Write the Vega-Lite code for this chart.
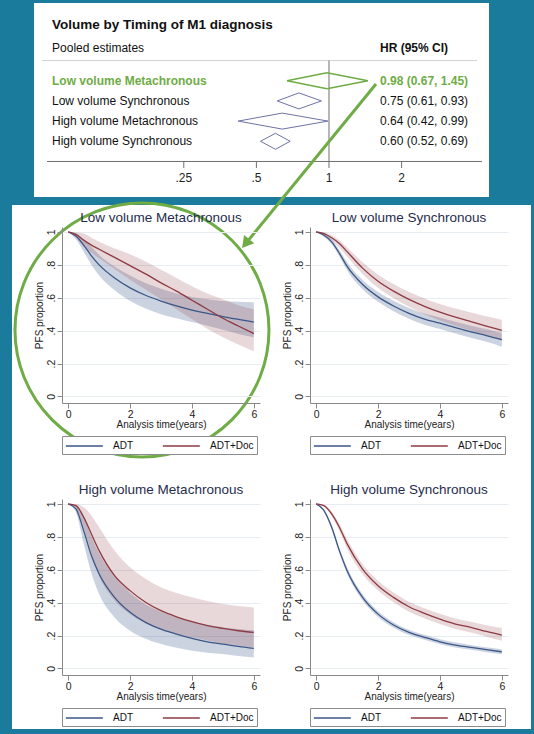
{
  "$schema": "https://vega.github.io/schema/vega-lite/v6.json",
  "background": "#1a7b9c",
  "padding": {"left": 8, "top": 3, "right": 7, "bottom": 5},
  "bounds": "flush",
  "spacing": 30,
  "config": {
    "font": "Liberation Sans",
    "view": {"stroke": null},
    "axis": {"domainColor": "#8a8a8a", "tickColor": "#8a8a8a", "labelColor": "#222222", "titleColor": "#222222", "labelFontSize": 10.5, "titleFontSize": 10, "titleFontWeight": "normal", "tickSize": 5, "labelPadding": 1, "grid": false},
    "axisX": {"titlePadding": 0, "labelFlush": false},
    "axisY": {"grid": true, "gridColor": "#e6ecf0", "labelAngle": 270, "titlePadding": 2},
    "title": {"fontSize": 13.5, "fontWeight": "normal", "color": "#1f2c4c", "offset": 3},
    "legend": {"orient": "bottom", "direction": "horizontal", "offset": 6, "padding": 3, "strokeColor": "#8c8c8c", "fillColor": "#ffffff", "symbolType": "M-1,0H5", "symbolSize": 152, "symbolStrokeWidth": 1.3, "labelFontSize": 10, "labelColor": "#111111", "labelOffset": 34, "columnPadding": 27}
  },
  "datasets": {
    "forest": [
      {"row": 1, "label": "Low volume Metachronous", "hr": 0.98, "lo": 0.67, "hi": 1.45, "ci": "0.98 (0.67, 1.45)"},
      {"row": 2, "label": "Low volume Synchronous", "hr": 0.75, "lo": 0.61, "hi": 0.93, "ci": "0.75 (0.61, 0.93)"},
      {"row": 3, "label": "High volume Metachronous", "hr": 0.64, "lo": 0.42, "hi": 0.99, "ci": "0.64 (0.42, 0.99)"},
      {"row": 4, "label": "High volume Synchronous", "hr": 0.60, "lo": 0.52, "hi": 0.69, "ci": "0.60 (0.52, 0.69)"}
    ],
    "hrticks": [
      {"tick": 0.25, "lab": ".25"}, {"tick": 0.5, "lab": ".5"}, {"tick": 1, "lab": "1"}, {"tick": 2, "lab": "2"}
    ],
    "curves": [
      {"panel": "LM", "arm": "ADT", "t": 0, "s": 1, "lo": 1, "hi": 1},
      {"panel": "LM", "arm": "ADT", "t": 0.25, "s": 0.975, "lo": 0.955, "hi": 0.99},
      {"panel": "LM", "arm": "ADT", "t": 0.5, "s": 0.92, "lo": 0.88, "hi": 0.955},
      {"panel": "LM", "arm": "ADT", "t": 0.75, "s": 0.855, "lo": 0.8, "hi": 0.91},
      {"panel": "LM", "arm": "ADT", "t": 1, "s": 0.8, "lo": 0.735, "hi": 0.86},
      {"panel": "LM", "arm": "ADT", "t": 1.5, "s": 0.72, "lo": 0.645, "hi": 0.79},
      {"panel": "LM", "arm": "ADT", "t": 2, "s": 0.66, "lo": 0.58, "hi": 0.735},
      {"panel": "LM", "arm": "ADT", "t": 2.5, "s": 0.615, "lo": 0.535, "hi": 0.69},
      {"panel": "LM", "arm": "ADT", "t": 3, "s": 0.58, "lo": 0.5, "hi": 0.655},
      {"panel": "LM", "arm": "ADT", "t": 3.5, "s": 0.55, "lo": 0.475, "hi": 0.625},
      {"panel": "LM", "arm": "ADT", "t": 4, "s": 0.525, "lo": 0.452, "hi": 0.605},
      {"panel": "LM", "arm": "ADT", "t": 4.5, "s": 0.505, "lo": 0.43, "hi": 0.59},
      {"panel": "LM", "arm": "ADT", "t": 5, "s": 0.485, "lo": 0.405, "hi": 0.58},
      {"panel": "LM", "arm": "ADT", "t": 5.5, "s": 0.468, "lo": 0.38, "hi": 0.575},
      {"panel": "LM", "arm": "ADT", "t": 6, "s": 0.452, "lo": 0.36, "hi": 0.572},
      {"panel": "LM", "arm": "ADT+Doc", "t": 0, "s": 1, "lo": 1, "hi": 1},
      {"panel": "LM", "arm": "ADT+Doc", "t": 0.25, "s": 0.985, "lo": 0.965, "hi": 0.998},
      {"panel": "LM", "arm": "ADT+Doc", "t": 0.5, "s": 0.95, "lo": 0.91, "hi": 0.99},
      {"panel": "LM", "arm": "ADT+Doc", "t": 0.75, "s": 0.92, "lo": 0.875, "hi": 0.965},
      {"panel": "LM", "arm": "ADT+Doc", "t": 1, "s": 0.895, "lo": 0.84, "hi": 0.94},
      {"panel": "LM", "arm": "ADT+Doc", "t": 1.5, "s": 0.845, "lo": 0.775, "hi": 0.9},
      {"panel": "LM", "arm": "ADT+Doc", "t": 2, "s": 0.795, "lo": 0.71, "hi": 0.865},
      {"panel": "LM", "arm": "ADT+Doc", "t": 2.5, "s": 0.745, "lo": 0.65, "hi": 0.82},
      {"panel": "LM", "arm": "ADT+Doc", "t": 3, "s": 0.69, "lo": 0.59, "hi": 0.77},
      {"panel": "LM", "arm": "ADT+Doc", "t": 3.5, "s": 0.64, "lo": 0.53, "hi": 0.72},
      {"panel": "LM", "arm": "ADT+Doc", "t": 4, "s": 0.585, "lo": 0.47, "hi": 0.67},
      {"panel": "LM", "arm": "ADT+Doc", "t": 4.5, "s": 0.53, "lo": 0.41, "hi": 0.625},
      {"panel": "LM", "arm": "ADT+Doc", "t": 5, "s": 0.475, "lo": 0.36, "hi": 0.59},
      {"panel": "LM", "arm": "ADT+Doc", "t": 5.5, "s": 0.428, "lo": 0.315, "hi": 0.555},
      {"panel": "LM", "arm": "ADT+Doc", "t": 6, "s": 0.382, "lo": 0.274, "hi": 0.53},
      {"panel": "LS", "arm": "ADT", "t": 0, "s": 1, "lo": 1, "hi": 1},
      {"panel": "LS", "arm": "ADT", "t": 0.25, "s": 0.98, "lo": 0.97, "hi": 0.99},
      {"panel": "LS", "arm": "ADT", "t": 0.5, "s": 0.94, "lo": 0.925, "hi": 0.955},
      {"panel": "LS", "arm": "ADT", "t": 0.75, "s": 0.87, "lo": 0.85, "hi": 0.89},
      {"panel": "LS", "arm": "ADT", "t": 1, "s": 0.79, "lo": 0.765, "hi": 0.815},
      {"panel": "LS", "arm": "ADT", "t": 1.5, "s": 0.68, "lo": 0.652, "hi": 0.708},
      {"panel": "LS", "arm": "ADT", "t": 2, "s": 0.605, "lo": 0.575, "hi": 0.635},
      {"panel": "LS", "arm": "ADT", "t": 2.5, "s": 0.55, "lo": 0.518, "hi": 0.582},
      {"panel": "LS", "arm": "ADT", "t": 3, "s": 0.505, "lo": 0.472, "hi": 0.538},
      {"panel": "LS", "arm": "ADT", "t": 3.5, "s": 0.47, "lo": 0.436, "hi": 0.504},
      {"panel": "LS", "arm": "ADT", "t": 4, "s": 0.445, "lo": 0.41, "hi": 0.48},
      {"panel": "LS", "arm": "ADT", "t": 4.5, "s": 0.418, "lo": 0.382, "hi": 0.454},
      {"panel": "LS", "arm": "ADT", "t": 5, "s": 0.393, "lo": 0.356, "hi": 0.43},
      {"panel": "LS", "arm": "ADT", "t": 5.5, "s": 0.37, "lo": 0.332, "hi": 0.408},
      {"panel": "LS", "arm": "ADT", "t": 6, "s": 0.345, "lo": 0.302, "hi": 0.385},
      {"panel": "LS", "arm": "ADT+Doc", "t": 0, "s": 1, "lo": 1, "hi": 1},
      {"panel": "LS", "arm": "ADT+Doc", "t": 0.25, "s": 0.99, "lo": 0.98, "hi": 0.998},
      {"panel": "LS", "arm": "ADT+Doc", "t": 0.5, "s": 0.965, "lo": 0.95, "hi": 0.98},
      {"panel": "LS", "arm": "ADT+Doc", "t": 0.75, "s": 0.93, "lo": 0.905, "hi": 0.95},
      {"panel": "LS", "arm": "ADT+Doc", "t": 1, "s": 0.88, "lo": 0.85, "hi": 0.905},
      {"panel": "LS", "arm": "ADT+Doc", "t": 1.5, "s": 0.78, "lo": 0.745, "hi": 0.815},
      {"panel": "LS", "arm": "ADT+Doc", "t": 2, "s": 0.7, "lo": 0.66, "hi": 0.74},
      {"panel": "LS", "arm": "ADT+Doc", "t": 2.5, "s": 0.64, "lo": 0.597, "hi": 0.683},
      {"panel": "LS", "arm": "ADT+Doc", "t": 3, "s": 0.59, "lo": 0.545, "hi": 0.635},
      {"panel": "LS", "arm": "ADT+Doc", "t": 3.5, "s": 0.548, "lo": 0.5, "hi": 0.596},
      {"panel": "LS", "arm": "ADT+Doc", "t": 4, "s": 0.512, "lo": 0.462, "hi": 0.562},
      {"panel": "LS", "arm": "ADT+Doc", "t": 4.5, "s": 0.482, "lo": 0.43, "hi": 0.534},
      {"panel": "LS", "arm": "ADT+Doc", "t": 5, "s": 0.455, "lo": 0.4, "hi": 0.51},
      {"panel": "LS", "arm": "ADT+Doc", "t": 5.5, "s": 0.428, "lo": 0.37, "hi": 0.487},
      {"panel": "LS", "arm": "ADT+Doc", "t": 6, "s": 0.402, "lo": 0.34, "hi": 0.466},
      {"panel": "HM", "arm": "ADT", "t": 0, "s": 1, "lo": 1, "hi": 1},
      {"panel": "HM", "arm": "ADT", "t": 0.25, "s": 0.97, "lo": 0.95, "hi": 0.99},
      {"panel": "HM", "arm": "ADT", "t": 0.5, "s": 0.838, "lo": 0.76, "hi": 0.92},
      {"panel": "HM", "arm": "ADT", "t": 0.75, "s": 0.686, "lo": 0.58, "hi": 0.8},
      {"panel": "HM", "arm": "ADT", "t": 1, "s": 0.574, "lo": 0.452, "hi": 0.7},
      {"panel": "HM", "arm": "ADT", "t": 1.5, "s": 0.432, "lo": 0.31, "hi": 0.56},
      {"panel": "HM", "arm": "ADT", "t": 2, "s": 0.341, "lo": 0.229, "hi": 0.46},
      {"panel": "HM", "arm": "ADT", "t": 2.5, "s": 0.28, "lo": 0.18, "hi": 0.39},
      {"panel": "HM", "arm": "ADT", "t": 3, "s": 0.239, "lo": 0.148, "hi": 0.345},
      {"panel": "HM", "arm": "ADT", "t": 3.5, "s": 0.209, "lo": 0.125, "hi": 0.31},
      {"panel": "HM", "arm": "ADT", "t": 4, "s": 0.183, "lo": 0.108, "hi": 0.285},
      {"panel": "HM", "arm": "ADT", "t": 4.5, "s": 0.162, "lo": 0.096, "hi": 0.265},
      {"panel": "HM", "arm": "ADT", "t": 5, "s": 0.148, "lo": 0.087, "hi": 0.25},
      {"panel": "HM", "arm": "ADT", "t": 5.5, "s": 0.134, "lo": 0.076, "hi": 0.24},
      {"panel": "HM", "arm": "ADT", "t": 6, "s": 0.122, "lo": 0.067, "hi": 0.232},
      {"panel": "HM", "arm": "ADT+Doc", "t": 0, "s": 1, "lo": 1, "hi": 1},
      {"panel": "HM", "arm": "ADT+Doc", "t": 0.25, "s": 0.99, "lo": 0.975, "hi": 1},
      {"panel": "HM", "arm": "ADT+Doc", "t": 0.5, "s": 0.92, "lo": 0.855, "hi": 0.98},
      {"panel": "HM", "arm": "ADT+Doc", "t": 0.75, "s": 0.817, "lo": 0.7, "hi": 0.93},
      {"panel": "HM", "arm": "ADT+Doc", "t": 1, "s": 0.716, "lo": 0.564, "hi": 0.858},
      {"panel": "HM", "arm": "ADT+Doc", "t": 1.5, "s": 0.564, "lo": 0.412, "hi": 0.716},
      {"panel": "HM", "arm": "ADT+Doc", "t": 2, "s": 0.473, "lo": 0.33, "hi": 0.615},
      {"panel": "HM", "arm": "ADT+Doc", "t": 2.5, "s": 0.402, "lo": 0.275, "hi": 0.545},
      {"panel": "HM", "arm": "ADT+Doc", "t": 3, "s": 0.351, "lo": 0.239, "hi": 0.493},
      {"panel": "HM", "arm": "ADT+Doc", "t": 3.5, "s": 0.314, "lo": 0.21, "hi": 0.458},
      {"panel": "HM", "arm": "ADT+Doc", "t": 4, "s": 0.284, "lo": 0.189, "hi": 0.432},
      {"panel": "HM", "arm": "ADT+Doc", "t": 4.5, "s": 0.26, "lo": 0.17, "hi": 0.41},
      {"panel": "HM", "arm": "ADT+Doc", "t": 5, "s": 0.243, "lo": 0.152, "hi": 0.391},
      {"panel": "HM", "arm": "ADT+Doc", "t": 5.5, "s": 0.229, "lo": 0.14, "hi": 0.38},
      {"panel": "HM", "arm": "ADT+Doc", "t": 6, "s": 0.219, "lo": 0.128, "hi": 0.371},
      {"panel": "HS", "arm": "ADT", "t": 0, "s": 1, "lo": 1, "hi": 1},
      {"panel": "HS", "arm": "ADT", "t": 0.25, "s": 0.96, "lo": 0.95, "hi": 0.97},
      {"panel": "HS", "arm": "ADT", "t": 0.5, "s": 0.858, "lo": 0.843, "hi": 0.873},
      {"panel": "HS", "arm": "ADT", "t": 0.75, "s": 0.716, "lo": 0.698, "hi": 0.734},
      {"panel": "HS", "arm": "ADT", "t": 1, "s": 0.594, "lo": 0.575, "hi": 0.613},
      {"panel": "HS", "arm": "ADT", "t": 1.5, "s": 0.432, "lo": 0.413, "hi": 0.451},
      {"panel": "HS", "arm": "ADT", "t": 2, "s": 0.33, "lo": 0.312, "hi": 0.348},
      {"panel": "HS", "arm": "ADT", "t": 2.5, "s": 0.264, "lo": 0.247, "hi": 0.281},
      {"panel": "HS", "arm": "ADT", "t": 3, "s": 0.219, "lo": 0.203, "hi": 0.235},
      {"panel": "HS", "arm": "ADT", "t": 3.5, "s": 0.189, "lo": 0.174, "hi": 0.204},
      {"panel": "HS", "arm": "ADT", "t": 4, "s": 0.162, "lo": 0.147, "hi": 0.177},
      {"panel": "HS", "arm": "ADT", "t": 4.5, "s": 0.142, "lo": 0.127, "hi": 0.157},
      {"panel": "HS", "arm": "ADT", "t": 5, "s": 0.128, "lo": 0.113, "hi": 0.143},
      {"panel": "HS", "arm": "ADT", "t": 5.5, "s": 0.114, "lo": 0.099, "hi": 0.129},
      {"panel": "HS", "arm": "ADT", "t": 6, "s": 0.101, "lo": 0.086, "hi": 0.117},
      {"panel": "HS", "arm": "ADT+Doc", "t": 0, "s": 1, "lo": 1, "hi": 1},
      {"panel": "HS", "arm": "ADT+Doc", "t": 0.25, "s": 0.99, "lo": 0.985, "hi": 0.995},
      {"panel": "HS", "arm": "ADT+Doc", "t": 0.5, "s": 0.939, "lo": 0.925, "hi": 0.953},
      {"panel": "HS", "arm": "ADT+Doc", "t": 0.75, "s": 0.858, "lo": 0.835, "hi": 0.88},
      {"panel": "HS", "arm": "ADT+Doc", "t": 1, "s": 0.757, "lo": 0.728, "hi": 0.786},
      {"panel": "HS", "arm": "ADT+Doc", "t": 1.5, "s": 0.604, "lo": 0.574, "hi": 0.634},
      {"panel": "HS", "arm": "ADT+Doc", "t": 2, "s": 0.503, "lo": 0.473, "hi": 0.533},
      {"panel": "HS", "arm": "ADT+Doc", "t": 2.5, "s": 0.432, "lo": 0.402, "hi": 0.462},
      {"panel": "HS", "arm": "ADT+Doc", "t": 3, "s": 0.375, "lo": 0.345, "hi": 0.405},
      {"panel": "HS", "arm": "ADT+Doc", "t": 3.5, "s": 0.335, "lo": 0.305, "hi": 0.366},
      {"panel": "HS", "arm": "ADT+Doc", "t": 4, "s": 0.3, "lo": 0.27, "hi": 0.332},
      {"panel": "HS", "arm": "ADT+Doc", "t": 4.5, "s": 0.27, "lo": 0.24, "hi": 0.303},
      {"panel": "HS", "arm": "ADT+Doc", "t": 5, "s": 0.25, "lo": 0.218, "hi": 0.283},
      {"panel": "HS", "arm": "ADT+Doc", "t": 5.5, "s": 0.225, "lo": 0.192, "hi": 0.262},
      {"panel": "HS", "arm": "ADT+Doc", "t": 6, "s": 0.203, "lo": 0.168, "hi": 0.245}
    ]
  },
  "vconcat": [
    {
      "width": 427,
      "height": 194,
      "layer": [
        {
          "data": {"values": [{}]},
          "mark": {"type": "rect", "fill": "#ffffff"},
          "encoding": {
            "x": {"datum": 0.04848, "type": "quantitative", "scale": {"type": "log", "domain": [0.07815, 4.6072], "nice": false}, "axis": null},
            "x2": {"datum": 6.88},
            "y": {"datum": 7.156, "type": "quantitative", "scale": {"domain": [-2.85, 6.76], "reverse": true, "nice": false, "zero": false}, "axis": null},
            "y2": {"datum": 33.114}
          }
        },
        {
          "data": {"values": [{}]},
          "mark": {"type": "rect", "fill": "#ffffff"},
          "encoding": {
            "x": {"datum": 0.05981, "type": "quantitative", "axis": null},
            "x2": {"datum": 4.6072},
            "y": {"datum": -2.85, "type": "quantitative", "axis": null},
            "y2": {"datum": 6.76}
          }
        },
        {
          "data": {"values": [{}]},
          "mark": {"type": "rule", "color": "#d2d2d2", "strokeWidth": 1},
          "encoding": {
            "x": {"datum": 0.06457, "type": "quantitative", "axis": null},
            "x2": {"datum": 4.108},
            "y": {"datum": 0, "type": "quantitative", "axis": null}
          }
        },
        {
          "data": {"values": [{}]},
          "mark": {"type": "rule", "color": "#707070", "strokeWidth": 1},
          "encoding": {
            "x": {"datum": 1, "type": "quantitative", "axis": null},
            "y": {"datum": 0, "type": "quantitative", "axis": null},
            "y2": {"datum": 5}
          }
        },
        {
          "data": {"values": [{}]},
          "mark": {"type": "rule", "color": "#707070", "strokeWidth": 1},
          "encoding": {
            "x": {"datum": 0.06774, "type": "quantitative", "axis": null},
            "x2": {"datum": 4.309},
            "y": {"datum": 5, "type": "quantitative", "axis": null}
          }
        },
        {
          "data": {"name": "hrticks"},
          "mark": {"type": "rule", "color": "#707070", "strokeWidth": 1},
          "encoding": {
            "x": {"field": "tick", "type": "quantitative", "axis": null},
            "y": {"datum": 5, "type": "quantitative", "axis": null},
            "y2": {"datum": 5.324}
          }
        },
        {
          "data": {"name": "hrticks"},
          "mark": {"type": "text", "align": "center", "baseline": "middle", "fontSize": 12, "color": "#222222"},
          "encoding": {
            "x": {"field": "tick", "type": "quantitative", "axis": null},
            "y": {"datum": 5.82, "type": "quantitative", "axis": null},
            "text": {"field": "lab"}
          }
        },
        {
          "data": {"values": [{}]},
          "mark": {"type": "text", "text": "Volume by Timing of M1 diagnosis", "align": "left", "baseline": "middle", "fontSize": 13.5, "fontWeight": "bold", "color": "#111111"},
          "encoding": {
            "x": {"datum": 0.07105, "type": "quantitative", "axis": null},
            "y": {"datum": -1.76, "type": "quantitative", "axis": null}
          }
        },
        {
          "data": {"values": [{}]},
          "mark": {"type": "text", "text": "Pooled estimates", "align": "left", "baseline": "middle", "fontSize": 12, "color": "#111111"},
          "encoding": {
            "x": {"datum": 0.07105, "type": "quantitative", "axis": null},
            "y": {"datum": -0.62, "type": "quantitative", "axis": null}
          }
        },
        {
          "data": {"values": [{}]},
          "mark": {"type": "text", "text": "HR (95% CI)", "align": "left", "baseline": "middle", "fontSize": 12, "fontWeight": "bold", "color": "#111111"},
          "encoding": {
            "x": {"datum": 1.6275, "type": "quantitative", "axis": null},
            "y": {"datum": -0.62, "type": "quantitative", "axis": null}
          }
        },
        {
          "data": {"name": "forest"},
          "transform": [{"filter": "datum.row > 1"}],
          "mark": {"type": "text", "align": "left", "baseline": "middle", "fontSize": 12, "color": "#111111"},
          "encoding": {
            "x": {"datum": 0.07105, "type": "quantitative", "axis": null},
            "y": {"field": "row", "type": "quantitative", "axis": null},
            "text": {"field": "label"}
          }
        },
        {
          "data": {"name": "forest"},
          "transform": [{"filter": "datum.row == 1"}],
          "mark": {"type": "text", "align": "left", "baseline": "middle", "fontSize": 12, "fontWeight": "bold", "color": "#6fac46"},
          "encoding": {
            "x": {"datum": 0.07105, "type": "quantitative", "axis": null},
            "y": {"field": "row", "type": "quantitative", "axis": null},
            "text": {"field": "label"}
          }
        },
        {
          "data": {"name": "forest"},
          "transform": [{"filter": "datum.row > 1"}],
          "mark": {"type": "text", "align": "left", "baseline": "middle", "fontSize": 12, "color": "#111111"},
          "encoding": {
            "x": {"datum": 1.6275, "type": "quantitative", "axis": null},
            "y": {"field": "row", "type": "quantitative", "axis": null},
            "text": {"field": "ci"}
          }
        },
        {
          "data": {"name": "forest"},
          "transform": [{"filter": "datum.row == 1"}],
          "mark": {"type": "text", "align": "left", "baseline": "middle", "fontSize": 12, "fontWeight": "bold", "color": "#6fac46"},
          "encoding": {
            "x": {"datum": 1.6275, "type": "quantitative", "axis": null},
            "y": {"field": "row", "type": "quantitative", "axis": null},
            "text": {"field": "ci"}
          }
        },
        {
          "data": {"name": "forest"},
          "mark": {"type": "rule", "y2Offset": -8},
          "encoding": {
            "x": {"field": "lo", "type": "quantitative", "axis": null},
            "x2": {"field": "hr"},
            "y": {"field": "row", "type": "quantitative", "axis": null},
            "y2": {"field": "row"},
            "color": {"condition": {"test": "datum.row == 1", "value": "#6fac46"}, "value": "#6e72a6"},
            "strokeWidth": {"condition": {"test": "datum.row == 1", "value": 1.5}, "value": 1}
          }
        },
        {
          "data": {"name": "forest"},
          "mark": {"type": "rule", "y2Offset": 8},
          "encoding": {
            "x": {"field": "lo", "type": "quantitative", "axis": null},
            "x2": {"field": "hr"},
            "y": {"field": "row", "type": "quantitative", "axis": null},
            "y2": {"field": "row"},
            "color": {"condition": {"test": "datum.row == 1", "value": "#6fac46"}, "value": "#6e72a6"},
            "strokeWidth": {"condition": {"test": "datum.row == 1", "value": 1.5}, "value": 1}
          }
        },
        {
          "data": {"name": "forest"},
          "mark": {"type": "rule", "y2Offset": -8},
          "encoding": {
            "x": {"field": "hi", "type": "quantitative", "axis": null},
            "x2": {"field": "hr"},
            "y": {"field": "row", "type": "quantitative", "axis": null},
            "y2": {"field": "row"},
            "color": {"condition": {"test": "datum.row == 1", "value": "#6fac46"}, "value": "#6e72a6"},
            "strokeWidth": {"condition": {"test": "datum.row == 1", "value": 1.5}, "value": 1}
          }
        },
        {
          "data": {"name": "forest"},
          "mark": {"type": "rule", "y2Offset": 8},
          "encoding": {
            "x": {"field": "hi", "type": "quantitative", "axis": null},
            "x2": {"field": "hr"},
            "y": {"field": "row", "type": "quantitative", "axis": null},
            "y2": {"field": "row"},
            "color": {"condition": {"test": "datum.row == 1", "value": "#6fac46"}, "value": "#6e72a6"},
            "strokeWidth": {"condition": {"test": "datum.row == 1", "value": 1.5}, "value": 1}
          }
        },
        {
          "data": {"values": [{}]},
          "mark": {"type": "point", "shape": "circle", "size": 64516, "filled": false, "stroke": "#6fac46", "strokeWidth": 3, "opacity": 1},
          "encoding": {
            "x": {"datum": 0.1677, "type": "quantitative", "axis": null},
            "y": {"datum": 13.349, "type": "quantitative", "axis": null}
          }
        },
        {
          "data": {"values": [{}]},
          "mark": {"type": "rule", "color": "#6fac46", "strokeWidth": 3},
          "encoding": {
            "x": {"datum": 1.5664, "type": "quantitative", "axis": null},
            "y": {"datum": 1.1625, "type": "quantitative", "axis": null},
            "x2": {"datum": 0.451},
            "y2": {"datum": 9.069}
          }
        },
        {
          "data": {"values": [{}]},
          "mark": {"type": "point", "shape": "triangle-up", "angle": 219, "size": 170, "filled": true, "color": "#6fac46", "opacity": 1},
          "encoding": {
            "x": {"datum": 0.451, "type": "quantitative", "axis": null},
            "y": {"datum": 9.069, "type": "quantitative", "axis": null}
          }
        }
      ]
    },
    {
      "columns": 2,
      "bounds": "flush",
      "spacing": {"row": 96, "column": 50},
      "resolve": {"scale": {"color": "independent"}, "legend": {"color": "independent"}},
      "concat": [
        {
          "width": 198,
          "height": 176,
          "title": "Low volume Metachronous",
          "data": {"name": "curves"},
          "transform": [{"filter": "datum.panel == 'LM'"}],
          "encoding": {
            "x": {"field": "t", "type": "quantitative", "scale": {"domain": [-0.2, 6.2], "nice": false, "zero": false}, "axis": {"values": [0, 2, 4, 6], "title": "Analysis time(years)"}},
            "y": {"field": "s", "type": "quantitative", "scale": {"domain": [-0.04, 1.03], "nice": false, "zero": false}, "axis": {"title": "PFS proportion", "labelExpr": "datum.value == 0 ? '0' : datum.value == 1 ? '1' : '.' + round(datum.value * 10)"}}
          },
          "layer": [
            {
              "transform": [{"filter": "datum.arm == 'ADT'"}],
              "mark": {"type": "area", "interpolate": "monotone", "color": "#3b5688", "opacity": 0.26},
              "encoding": {"y": {"field": "lo", "type": "quantitative", "axis": {"title": "PFS proportion", "labelExpr": "datum.value == 0 ? '0' : datum.value == 1 ? '1' : '.' + round(datum.value * 10)"}}, "y2": {"field": "hi"}}
            },
            {
              "transform": [{"filter": "datum.arm == 'ADT+Doc'"}],
              "mark": {"type": "area", "interpolate": "monotone", "color": "#8e3a43", "opacity": 0.2},
              "encoding": {"y": {"field": "lo", "type": "quantitative", "axis": {"title": "PFS proportion", "labelExpr": "datum.value == 0 ? '0' : datum.value == 1 ? '1' : '.' + round(datum.value * 10)"}}, "y2": {"field": "hi"}}
            },
            {
              "mark": {"type": "line", "interpolate": "monotone", "strokeWidth": 1.3},
              "encoding": {"color": {"field": "arm", "type": "nominal", "scale": {"domain": ["ADT", "ADT+Doc"], "range": ["#3b5688", "#8e3a43"]}, "legend": {"title": null}}}
            }
          ]
        },
        {
          "width": 198,
          "height": 176,
          "title": "Low volume Synchronous",
          "data": {"name": "curves"},
          "transform": [{"filter": "datum.panel == 'LS'"}],
          "encoding": {
            "x": {"field": "t", "type": "quantitative", "scale": {"domain": [-0.2, 6.2], "nice": false, "zero": false}, "axis": {"values": [0, 2, 4, 6], "title": "Analysis time(years)"}},
            "y": {"field": "s", "type": "quantitative", "scale": {"domain": [-0.04, 1.03], "nice": false, "zero": false}, "axis": {"title": "PFS proportion", "labelExpr": "datum.value == 0 ? '0' : datum.value == 1 ? '1' : '.' + round(datum.value * 10)"}}
          },
          "layer": [
            {
              "transform": [{"filter": "datum.arm == 'ADT'"}],
              "mark": {"type": "area", "interpolate": "monotone", "color": "#3b5688", "opacity": 0.26},
              "encoding": {"y": {"field": "lo", "type": "quantitative", "axis": {"title": "PFS proportion", "labelExpr": "datum.value == 0 ? '0' : datum.value == 1 ? '1' : '.' + round(datum.value * 10)"}}, "y2": {"field": "hi"}}
            },
            {
              "transform": [{"filter": "datum.arm == 'ADT+Doc'"}],
              "mark": {"type": "area", "interpolate": "monotone", "color": "#8e3a43", "opacity": 0.2},
              "encoding": {"y": {"field": "lo", "type": "quantitative", "axis": {"title": "PFS proportion", "labelExpr": "datum.value == 0 ? '0' : datum.value == 1 ? '1' : '.' + round(datum.value * 10)"}}, "y2": {"field": "hi"}}
            },
            {
              "mark": {"type": "line", "interpolate": "monotone", "strokeWidth": 1.3},
              "encoding": {"color": {"field": "arm", "type": "nominal", "scale": {"domain": ["ADT", "ADT+Doc"], "range": ["#3b5688", "#8e3a43"]}, "legend": {"title": null}}}
            }
          ]
        },
        {
          "width": 198,
          "height": 176,
          "title": "High volume Metachronous",
          "data": {"name": "curves"},
          "transform": [{"filter": "datum.panel == 'HM'"}],
          "encoding": {
            "x": {"field": "t", "type": "quantitative", "scale": {"domain": [-0.2, 6.2], "nice": false, "zero": false}, "axis": {"values": [0, 2, 4, 6], "title": "Analysis time(years)"}},
            "y": {"field": "s", "type": "quantitative", "scale": {"domain": [-0.04, 1.03], "nice": false, "zero": false}, "axis": {"title": "PFS proportion", "labelExpr": "datum.value == 0 ? '0' : datum.value == 1 ? '1' : '.' + round(datum.value * 10)"}}
          },
          "layer": [
            {
              "transform": [{"filter": "datum.arm == 'ADT'"}],
              "mark": {"type": "area", "interpolate": "monotone", "color": "#3b5688", "opacity": 0.26},
              "encoding": {"y": {"field": "lo", "type": "quantitative", "axis": {"title": "PFS proportion", "labelExpr": "datum.value == 0 ? '0' : datum.value == 1 ? '1' : '.' + round(datum.value * 10)"}}, "y2": {"field": "hi"}}
            },
            {
              "transform": [{"filter": "datum.arm == 'ADT+Doc'"}],
              "mark": {"type": "area", "interpolate": "monotone", "color": "#8e3a43", "opacity": 0.2},
              "encoding": {"y": {"field": "lo", "type": "quantitative", "axis": {"title": "PFS proportion", "labelExpr": "datum.value == 0 ? '0' : datum.value == 1 ? '1' : '.' + round(datum.value * 10)"}}, "y2": {"field": "hi"}}
            },
            {
              "mark": {"type": "line", "interpolate": "monotone", "strokeWidth": 1.3},
              "encoding": {"color": {"field": "arm", "type": "nominal", "scale": {"domain": ["ADT", "ADT+Doc"], "range": ["#3b5688", "#8e3a43"]}, "legend": {"title": null}}}
            }
          ]
        },
        {
          "width": 198,
          "height": 176,
          "title": "High volume Synchronous",
          "data": {"name": "curves"},
          "transform": [{"filter": "datum.panel == 'HS'"}],
          "encoding": {
            "x": {"field": "t", "type": "quantitative", "scale": {"domain": [-0.2, 6.2], "nice": false, "zero": false}, "axis": {"values": [0, 2, 4, 6], "title": "Analysis time(years)"}},
            "y": {"field": "s", "type": "quantitative", "scale": {"domain": [-0.04, 1.03], "nice": false, "zero": false}, "axis": {"title": "PFS proportion", "labelExpr": "datum.value == 0 ? '0' : datum.value == 1 ? '1' : '.' + round(datum.value * 10)"}}
          },
          "layer": [
            {
              "transform": [{"filter": "datum.arm == 'ADT'"}],
              "mark": {"type": "area", "interpolate": "monotone", "color": "#3b5688", "opacity": 0.26},
              "encoding": {"y": {"field": "lo", "type": "quantitative", "axis": {"title": "PFS proportion", "labelExpr": "datum.value == 0 ? '0' : datum.value == 1 ? '1' : '.' + round(datum.value * 10)"}}, "y2": {"field": "hi"}}
            },
            {
              "transform": [{"filter": "datum.arm == 'ADT+Doc'"}],
              "mark": {"type": "area", "interpolate": "monotone", "color": "#8e3a43", "opacity": 0.2},
              "encoding": {"y": {"field": "lo", "type": "quantitative", "axis": {"title": "PFS proportion", "labelExpr": "datum.value == 0 ? '0' : datum.value == 1 ? '1' : '.' + round(datum.value * 10)"}}, "y2": {"field": "hi"}}
            },
            {
              "mark": {"type": "line", "interpolate": "monotone", "strokeWidth": 1.3},
              "encoding": {"color": {"field": "arm", "type": "nominal", "scale": {"domain": ["ADT", "ADT+Doc"], "range": ["#3b5688", "#8e3a43"]}, "legend": {"title": null}}}
            }
          ]
        }
      ]
    }
  ]
}
